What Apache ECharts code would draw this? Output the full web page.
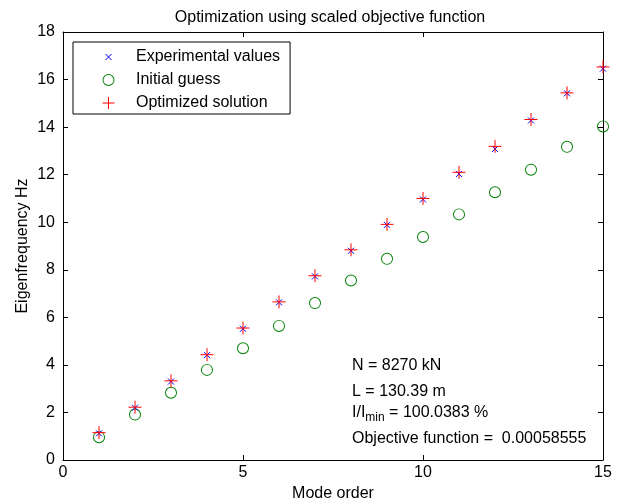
<!DOCTYPE html>
<html>
<head>
<meta charset="utf-8">
<script src="https://cdn.jsdelivr.net/npm/echarts@6/dist/echarts.min.js"></script>
<style>
  html, body { margin: 0; padding: 0; background: #fff; }
  #chart { width: 621px; height: 504px; }
</style>
</head>
<body>
<div id="chart"></div>
<script>
// Mode numbers and eigenfrequencies (Hz)
const modes = [1, 2, 3, 4, 5, 6, 7, 8, 9, 10, 11, 12, 13, 14, 15];
const experimental = [1.12, 2.20, 3.30, 4.41, 5.52, 6.63, 7.72, 8.80, 9.89, 10.96, 12.03, 13.08, 14.28, 15.42, 16.46];
const initialGuess = [0.96, 1.91, 2.83, 3.79, 4.70, 5.64, 6.60, 7.55, 8.46, 9.38, 10.33, 11.26, 12.21, 13.17, 14.03];
const optimized = [1.15, 2.22, 3.33, 4.43, 5.55, 6.65, 7.75, 8.84, 9.91, 11.00, 12.10, 13.19, 14.32, 15.44, 16.53];

const seriesNames = ['Experimental values', 'Initial guess', 'Optimized solution'];
const annotations = [
  'N = 8270 kN',
  'L = 130.39 m',
  '{n|I/I}{sub|min}{n| = 100.0383 %}',
  'Objective function =  0.00058555'
];

const FONT = 'Liberation Sans, Arial, Helvetica, sans-serif';
const FS = 16;

// stroke-only marker shapes; the outer moves pad the bounding box
const crossPath = 'path://M-1,-1M1,1M-0.5,-0.5L0.5,0.5M-0.5,0.5L0.5,-0.5';
const plusPath = 'path://M-1,-1M1,1M0,-1L0,1M-1,0L1,0';
// thin filled ring (outer circle minus inner circle)
const ringPath = 'path://M1,0A1,1,0,1,1,-1,0A1,1,0,1,1,1,0ZM0.84,0A0.84,0.84,0,1,0,-0.84,0A0.84,0.84,0,1,0,0.84,0Z';

const pairs = ys => modes.map((m, i) => [m, ys[i]]);

const chart = echarts.init(document.getElementById('chart'), null, { renderer: 'canvas' });

function axisLine() {
  return { show: true, onZero: false, lineStyle: { color: '#000', width: 1 } };
}
function ticks() {
  return { show: true, inside: true, length: 5, lineStyle: { color: '#000', width: 1 } };
}

chart.setOption({
  animation: false,
  backgroundColor: '#fff',
  title: {
    text: 'Optimization using scaled objective function',
    left: 325,
    textAlign: 'center',
    top: 5,
    textStyle: { fontFamily: FONT, fontSize: FS, fontWeight: 'normal', color: '#000' }
  },
  grid: { left: 63, right: 18, top: 32, bottom: 44, show: false, outerBoundsMode: 'none', containLabel: false },
  legend: {
    orient: 'vertical',
    left: 73, top: 42,
    backgroundColor: '#fff',
    borderColor: '#000', borderWidth: 1, borderRadius: 0,
    padding: [7, 10, 3, 29],
    itemGap: 7,
    itemWidth: 45, itemHeight: 12,
    itemStyle: { borderWidth: 1 },
    textStyle: { fontFamily: FONT, fontSize: FS, color: '#000' },
    data: seriesNames
  },
  xAxis: [
    {
      type: 'value', min: 0, max: 15, interval: 5, position: 'bottom',
      name: 'Mode order', nameLocation: 'middle', nameGap: 26, nameMoveOverlap: false,
      nameTextStyle: { fontFamily: FONT, fontSize: FS, color: '#000' },
      axisLine: axisLine(), axisTick: ticks(),
      axisLabel: { fontFamily: FONT, fontSize: FS, color: '#000', margin: 5 },
      splitLine: { show: false }
    },
    {
      type: 'value', min: 0, max: 15, interval: 5, position: 'top',
      axisLine: axisLine(), axisTick: ticks(),
      axisLabel: { show: false },
      splitLine: { show: false }
    }
  ],
  yAxis: [
    {
      type: 'value', min: 0, max: 18, interval: 2, position: 'left',
      name: 'Eigenfrequency Hz', nameLocation: 'middle', nameGap: 32, nameMoveOverlap: false,
      nameTextStyle: { fontFamily: FONT, fontSize: FS, color: '#000' },
      axisLine: axisLine(), axisTick: ticks(),
      axisLabel: { fontFamily: FONT, fontSize: FS, color: '#000', margin: 8 },
      splitLine: { show: false }
    },
    {
      type: 'value', min: 0, max: 18, interval: 2, position: 'right',
      axisLine: axisLine(), axisTick: ticks(),
      axisLabel: { show: false },
      splitLine: { show: false }
    }
  ],
  series: [
    {
      name: seriesNames[0], type: 'scatter', data: pairs(experimental),
      symbol: crossPath, symbolSize: 12, symbolKeepAspect: true,
      itemStyle: { color: '#0000ff', borderColor: '#0000ff', borderWidth: 1, opacity: 1 },
      z: 3
    },
    {
      name: seriesNames[1], type: 'scatter', data: pairs(initialGuess),
      symbol: ringPath, symbolSize: 12, symbolKeepAspect: true,
      itemStyle: { color: '#008000', borderColor: 'transparent', borderWidth: 0, opacity: 1 },
      z: 2
    },
    {
      name: seriesNames[2], type: 'scatter', data: pairs(optimized),
      symbol: plusPath, symbolSize: 13, symbolKeepAspect: true,
      itemStyle: { color: '#ff0000', borderColor: '#ff0000', borderWidth: 1, opacity: 1 },
      z: 4
    }
  ],
  graphic: annotations.map((t, i) => ({
    type: 'text',
    left: 352,
    top: [358, 384, 405, 431][i],
    z: 10,
    style: {
      text: t,
      fontFamily: FONT, fontSize: FS, fill: '#000',
      rich: {
        n: { fontFamily: FONT, fontSize: FS, color: '#000' },
        sub: { fontFamily: FONT, fontSize: 12, color: '#000', padding: [10, 0, 0, 0] }
      }
    }
  }))
});
</script>
</body>
</html>
